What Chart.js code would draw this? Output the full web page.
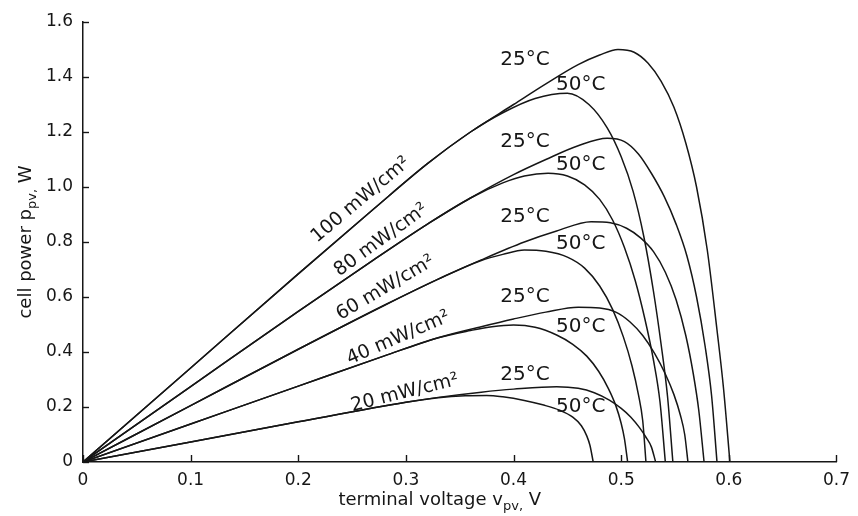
<!DOCTYPE html>
<html>
<head>
<meta charset="utf-8">
<script src="https://cdn.jsdelivr.net/npm/chart.js@4/dist/chart.umd.min.js"></script>
<style>
  html, body { margin: 0; padding: 0; background: #ffffff; }
  #c { display: block; }
</style>
</head>
<body>
<canvas id="c" width="858" height="516"></canvas>
<script>
// Solar cell P–V characteristics: cell power versus terminal voltage
// for five irradiance levels at two cell temperatures.

// ---- tick labels ----
const xTickLabels = ['0', '0.1', '0.2', '0.3', '0.4', '0.5', '0.6', '0.7'];
const yTickLabels = ['0', '0.2', '0.4', '0.6', '0.8', '1.0', '1.2', '1.4', '1.6'];

// ---- series (terminal voltage V, cell power W) ----
// 100 mW/cm2
const v100_25 = [0, 0.10, 0.20, 0.27, 0.32, 0.36, 0.40, 0.43, 0.46, 0.48, 0.497, 0.512, 0.525, 0.537, 0.549, 0.560, 0.570, 0.580, 0.589, 0.595, 0.601];
const p100_25 = [0, 0.342, 0.684, 0.92, 1.085, 1.20, 1.30, 1.375, 1.445, 1.48, 1.50, 1.49, 1.45, 1.385, 1.29, 1.16, 1.00, 0.77, 0.48, 0.27, 0];
const v100_50 = [0, 0.10, 0.20, 0.27, 0.32, 0.36, 0.39, 0.42, 0.45, 0.47, 0.487, 0.50, 0.511, 0.521, 0.530, 0.537, 0.543, 0.548];
const p100_50 = [0, 0.342, 0.684, 0.92, 1.085, 1.20, 1.27, 1.322, 1.341, 1.30, 1.215, 1.11, 0.985, 0.82, 0.62, 0.43, 0.24, 0];
// 80 mW/cm2
const v80_25 = [0, 0.10, 0.20, 0.27, 0.32, 0.36, 0.40, 0.43, 0.46, 0.487, 0.503, 0.516, 0.528, 0.540, 0.551, 0.561, 0.570, 0.578, 0.584, 0.589];
const p80_25 = [0, 0.274, 0.548, 0.735, 0.865, 0.96, 1.045, 1.10, 1.15, 1.177, 1.165, 1.12, 1.05, 0.965, 0.865, 0.75, 0.60, 0.42, 0.24, 0];
const v80_50 = [0, 0.10, 0.20, 0.27, 0.32, 0.36, 0.39, 0.41, 0.432, 0.45, 0.466, 0.48, 0.492, 0.503, 0.513, 0.522, 0.530, 0.536, 0.541];
const p80_50 = [0, 0.274, 0.548, 0.735, 0.865, 0.96, 1.015, 1.04, 1.05, 1.04, 1.008, 0.955, 0.88, 0.78, 0.66, 0.52, 0.37, 0.22, 0];
// 60 mW/cm2
const v60_25 = [0, 0.10, 0.20, 0.28, 0.33, 0.37, 0.41, 0.44, 0.472, 0.49, 0.505, 0.518, 0.530, 0.541, 0.551, 0.560, 0.567, 0.572, 0.577];
const p60_25 = [0, 0.205, 0.41, 0.57, 0.665, 0.735, 0.80, 0.84, 0.874, 0.87, 0.85, 0.815, 0.765, 0.69, 0.59, 0.46, 0.32, 0.19, 0];
const v60_50 = [0, 0.10, 0.20, 0.28, 0.33, 0.37, 0.39, 0.41, 0.43, 0.45, 0.466, 0.48, 0.492, 0.502, 0.510, 0.516, 0.520, 0.523];
const p60_50 = [0, 0.205, 0.41, 0.57, 0.665, 0.733, 0.755, 0.771, 0.766, 0.745, 0.705, 0.64, 0.555, 0.455, 0.35, 0.245, 0.15, 0];
// 40 mW/cm2
const v40_25 = [0, 0.10, 0.20, 0.28, 0.33, 0.37, 0.40, 0.43, 0.46, 0.48, 0.495, 0.508, 0.520, 0.531, 0.541, 0.549, 0.555, 0.559, 0.562];
const p40_25 = [0, 0.138, 0.276, 0.386, 0.452, 0.492, 0.52, 0.545, 0.563, 0.56, 0.545, 0.51, 0.46, 0.395, 0.32, 0.245, 0.17, 0.10, 0];
const v40_50 = [0, 0.10, 0.20, 0.28, 0.33, 0.36, 0.38, 0.40, 0.42, 0.44, 0.455, 0.468, 0.479, 0.488, 0.495, 0.500, 0.503, 0.506];
const p40_50 = [0, 0.138, 0.276, 0.386, 0.452, 0.478, 0.492, 0.498, 0.49, 0.462, 0.428, 0.385, 0.33, 0.268, 0.205, 0.14, 0.085, 0];
// 20 mW/cm2
const v20_25 = [0, 0.10, 0.20, 0.30, 0.33, 0.37, 0.40, 0.44, 0.46, 0.475, 0.489, 0.50, 0.509, 0.517, 0.523, 0.528, 0.532];
const p20_25 = [0, 0.073, 0.146, 0.217, 0.235, 0.254, 0.265, 0.274, 0.268, 0.252, 0.225, 0.195, 0.163, 0.125, 0.09, 0.055, 0];
const v20_50 = [0, 0.10, 0.20, 0.30, 0.33, 0.355, 0.375, 0.39, 0.41, 0.428, 0.443, 0.455, 0.463, 0.468, 0.471, 0.474];
const p20_50 = [0, 0.073, 0.146, 0.217, 0.234, 0.241, 0.242, 0.237, 0.224, 0.207, 0.188, 0.163, 0.132, 0.095, 0.06, 0];

// ---- label texts ----
const irradianceLabels = ['100 mW/cm²', '80 mW/cm²', '60 mW/cm²', '40 mW/cm²', '20 mW/cm²'];
const temperatureLabels = ['25°C', '50°C'];

// ---- label placement (data coordinates, rotation in degrees) ----
const irradianceAnchors = [
  { v: 0.258, p: 0.953, rot: -40 },
  { v: 0.277, p: 0.807, rot: -36 },
  { v: 0.281, p: 0.633, rot: -30.5 },
  { v: 0.293, p: 0.451, rot: -23.5 },
  { v: 0.299, p: 0.251, rot: -14 }
];
const temperatureAnchors = [
  { v: 0.4106, p: [1.462, 1.165, 0.892, 0.601, 0.316] },  // 25°C
  { v: 0.4624, p: [1.371, 1.080, 0.795, 0.492, 0.201] }   // 50°C
];

const INK = '#161616';
const FONT = '"DejaVu Sans", "Liberation Sans", Arial, sans-serif';

const curves = [
  [v100_25, p100_25], [v100_50, p100_50],
  [v80_25, p80_25], [v80_50, p80_50],
  [v60_25, p60_25], [v60_50, p60_50],
  [v40_25, p40_25], [v40_50, p40_50],
  [v20_25, p20_25], [v20_50, p20_50]
];

const datasets = curves.map(([vs, ps]) => ({
  data: vs.map((v, i) => ({ x: v, y: ps[i] })),
  borderColor: INK,
  borderWidth: 1.5,
  pointRadius: 0,
  fill: false,
  cubicInterpolationMode: 'monotone'
}));

// Draws a run of text pieces (normal / subscript) centred on (x, y).
function drawRuns(ctx, runs, x, y) {
  let total = 0;
  runs.forEach(r => { ctx.font = r.size + 'px ' + FONT; r.w = ctx.measureText(r.t).width; total += r.w; });
  let cx = x - total / 2;
  ctx.textAlign = 'left';
  ctx.textBaseline = 'alphabetic';
  runs.forEach(r => {
    ctx.font = r.size + 'px ' + FONT;
    ctx.fillText(r.t, cx, y + (r.dy || 0));
    cx += r.w;
  });
}

// Inward tick marks on both axes.
const innerTicks = {
  id: 'innerTicks',
  afterDraw(chart) {
    const { ctx, chartArea, scales } = chart;
    ctx.save();
    ctx.strokeStyle = INK;
    ctx.lineWidth = 1.4;
    scales.x.ticks.forEach(t => {
      const px = Math.round(scales.x.getPixelForValue(t.value)) + 0.5;
      ctx.beginPath();
      ctx.moveTo(px, chartArea.bottom);
      ctx.lineTo(px, chartArea.bottom - 7);
      ctx.stroke();
    });
    scales.y.ticks.forEach(t => {
      const py = Math.round(scales.y.getPixelForValue(t.value)) + 0.5;
      ctx.beginPath();
      ctx.moveTo(chartArea.left, py);
      ctx.lineTo(chartArea.left + 6, py);
      ctx.stroke();
    });
    ctx.restore();
  }
};

// Axis titles with subscripts, and the curve labels.
const curveText = {
  id: 'curveText',
  afterDraw(chart) {
    const { ctx, scales, chartArea } = chart;
    const xs = scales.x, ys = scales.y;
    ctx.save();
    ctx.fillStyle = INK;

    // x-axis title
    drawRuns(ctx, [
      { t: 'terminal voltage v', size: 18 },
      { t: 'pv,', size: 13, dy: 5 },
      { t: ' V', size: 18 }
    ], (chartArea.left + chartArea.right) / 2 - 20, 505);

    // y-axis title
    ctx.save();
    ctx.translate(31, (chartArea.top + chartArea.bottom) / 2);
    ctx.rotate(-Math.PI / 2);
    drawRuns(ctx, [
      { t: 'cell power p', size: 18 },
      { t: 'pv,', size: 13, dy: 5 },
      { t: ' W', size: 18 }
    ], 0, 0);
    ctx.restore();

    // irradiance labels along the rising branches
    ctx.font = '19px ' + FONT;
    ctx.textAlign = 'center';
    ctx.textBaseline = 'middle';
    irradianceAnchors.forEach((a, i) => {
      ctx.save();
      ctx.translate(xs.getPixelForValue(a.v), ys.getPixelForValue(a.p));
      ctx.rotate(a.rot * Math.PI / 180);
      ctx.fillText(irradianceLabels[i], 0, 0);
      ctx.restore();
    });

    // temperature labels near the maxima
    ctx.font = '20px ' + FONT;
    temperatureAnchors.forEach((a, k) => {
      a.p.forEach(p => {
        ctx.fillText(temperatureLabels[k], xs.getPixelForValue(a.v), ys.getPixelForValue(p));
      });
    });
    ctx.restore();
  }
};

new Chart(document.getElementById('c'), {
  type: 'line',
  data: { datasets },
  options: {
    responsive: false,
    animation: false,
    devicePixelRatio: 1,
    layout: { padding: { left: 0, top: 22, right: 18, bottom: 0 } },
    plugins: { legend: { display: false }, tooltip: { enabled: false } },
    scales: {
      x: {
        type: 'linear',
        min: 0,
        max: 0.7,
        afterFit(s) { s.height = 54; },
        grid: { display: false, drawTicks: false },
        border: { display: true, color: INK, width: 1.5 },
        ticks: {
          stepSize: 0.1,
          padding: 8,
          color: INK,
          maxRotation: 0,
          autoSkip: false,
          font: { family: FONT, size: 17 },
          callback: (v, i) => xTickLabels[i]
        }
      },
      y: {
        type: 'linear',
        min: 0,
        max: 1.6,
        afterFit(s) { s.width = 83; },
        grid: { display: false, drawTicks: false },
        border: { display: true, color: INK, width: 1.5 },
        ticks: {
          stepSize: 0.2,
          padding: 10,
          color: INK,
          autoSkip: false,
          font: { family: FONT, size: 17 },
          callback: (v, i) => yTickLabels[i]
        }
      }
    }
  },
  plugins: [innerTicks, curveText]
});
</script>
</body>
</html>
